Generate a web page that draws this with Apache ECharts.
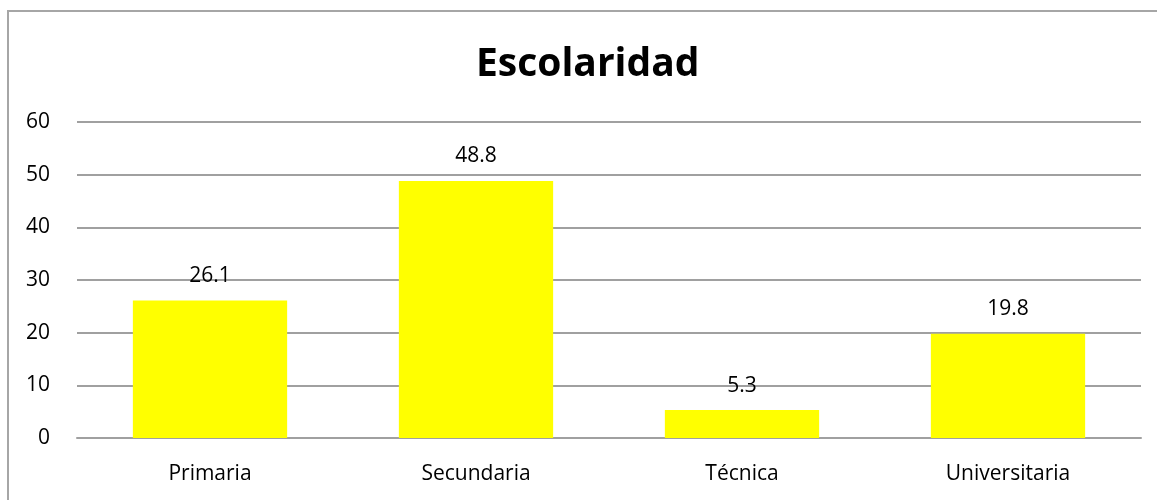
<!DOCTYPE html>
<html>
<head>
<meta charset="utf-8">
<script src="https://cdn.jsdelivr.net/npm/echarts@6/dist/echarts.min.js"></script>
<style>
    html, body { margin: 0; padding: 0; background: #fff; }
    #frame {
        position: absolute; left: 7px; top: 10px; right: 0; bottom: 0;
        border-left: 2px solid #a6a6a6; border-top: 2px solid #a6a6a6;
    }
    #chart { position: absolute; left: 0; top: 0; width: 1157px; height: 500px; }
</style>
</head>
<body>
<div id="frame"></div>
<div id="chart"></div>
<script>
    // datos
    var categories = ['Primaria', 'Secundaria', 'Técnica', 'Universitaria'];
    var values = [26.1, 48.8, 5.3, 19.8];
    var yTicks = [0, 10, 20, 30, 40, 50, 60];

    var font = 'Open Sans, Noto Sans, sans-serif';
    var mychart = echarts.init(document.getElementById('chart'));
    mychart.setOption({
        animation: false,
        title: {
            text: 'Escolaridad',
            left: 471,
            top: 40,
            textStyle: { color: '#000', fontSize: 39, fontWeight: 'bold', fontFamily: font }
        },
        grid: { left: 77, right: 16, top: 122, bottom: 62 },
        xAxis: {
            type: 'category',
            data: categories,
            axisLine: { show: true, lineStyle: { color: '#a0a0a0', width: 2 } },
            axisTick: { show: false },
            axisLabel: { color: '#000', fontSize: 21, fontFamily: font, margin: 26 }
        },
        yAxis: {
            type: 'value',
            min: yTicks[0],
            max: yTicks[yTicks.length - 1],
            interval: 10,
            axisLine: { show: false },
            axisTick: { show: false },
            splitLine: { lineStyle: { color: '#a0a0a0', width: 2 } },
            axisLabel: { color: '#000', fontSize: 21, fontFamily: font, margin: 27 }
        },
        series: [{
            type: 'bar',
            data: values,
            barWidth: '58%',
            itemStyle: { color: '#ffff00' },
            label: {
                show: true,
                position: 'top',
                distance: 14,
                color: '#000',
                fontSize: 21,
                fontFamily: font
            }
        }]
    });
</script>
</body>
</html>
